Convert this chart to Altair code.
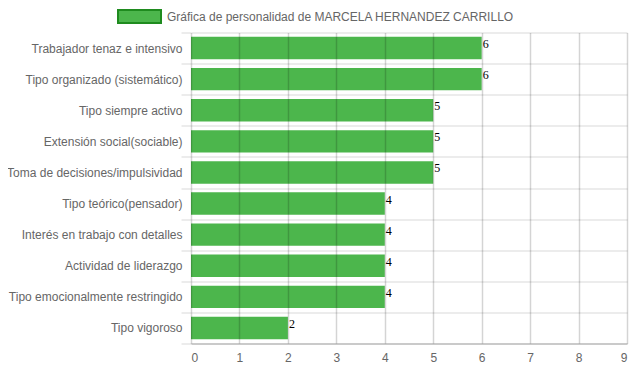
import altair as alt
import pandas as pd

categories = [
    "Trabajador tenaz e intensivo",
    "Tipo organizado (sistemático)",
    "Tipo siempre activo",
    "Extensión social(sociable)",
    "Toma de decisiones/impulsividad",
    "Tipo teórico(pensador)",
    "Interés en trabajo con detalles",
    "Actividad de liderazgo",
    "Tipo emocionalmente restringido",
    "Tipo vigoroso",
]
values = [6, 6, 5, 5, 5, 4, 4, 4, 4, 2]
series_name = "Gráfica de personalidad de MARCELA HERNANDEZ CARRILLO"
x_ticks = [0, 1, 2, 3, 4, 5, 6, 7, 8, 9]

df = pd.DataFrame({"cat": categories, "val": values, "serie": series_name})

FONT = "Liberation Sans"

y_enc = alt.Y(
    "cat:N",
    sort=None,
    title=None,
    scale=alt.Scale(paddingInner=0, paddingOuter=0),
    axis=alt.Axis(
        grid=True,
        tickBand="extent",
        gridColor="#e6e6e6",
        gridWidth=1.5,
        tickColor="#e6e6e6",
        tickWidth=1.5,
        tickSize=10,
        domain=False,
        labelColor="#666666",
        labelFont=FONT,
        labelFontSize=12,
        labelPadding=-1,
        labelLimit=400,
    ),
)

x_enc = alt.X(
    "val:Q",
    title=None,
    scale=alt.Scale(domain=[0, 9], nice=False),
    axis=alt.Axis(
        values=x_ticks,
        grid=True,
        gridColor="#000000",
        gridOpacity=0.17,
        gridWidth=1.5,
        ticks=False,
        domainColor="#a8a8a8",
        labelColor="#666666",
        labelFont=FONT,
        labelFontSize=12,
        labelPadding=9,
        zindex=1,
    ),
)

bars = alt.Chart(df).mark_bar(height=alt.RelativeBandSize(0.72)).encode(
    x=x_enc,
    y=y_enc,
    color=alt.Color(
        "serie:N",
        scale=alt.Scale(range=["#4cb64c"]),
        legend=alt.Legend(
            title=None,
            orient="none",
            legendX=-74,
            legendY=-38.5,
            padding=0,
            symbolType="M-1,-0.3H1V0.3H-1Z",
            symbolSize=1849,
            symbolStrokeColor="#1f8b1f",
            symbolStrokeWidth=2,
            symbolOpacity=1,
            labelFont=FONT,
            labelFontSize=12,
            labelColor="#666666",
            labelOffset=5,
            labelLimit=600,
        ),
    ),
)

text = alt.Chart(df).mark_text(
    align="left",
    baseline="alphabetic",
    dx=1,
    font="Liberation Serif",
    fontSize=12,
    color="#000000",
).encode(
    x=alt.X("val:Q"),
    y=alt.Y("cat:N", sort=None),
    text=alt.Text("val:Q"),
)

chart = (
    alt.layer(bars, text)
    .properties(
        width=436,
        height=311,
        autosize=alt.AutoSizeParams(type="none"),
        padding={"left": 183, "top": 24.5, "right": 4, "bottom": 24},
    )
    .configure_view(stroke=None)
)

chart.save("out.html", embed_options={"renderer": "svg", "actions": False})
